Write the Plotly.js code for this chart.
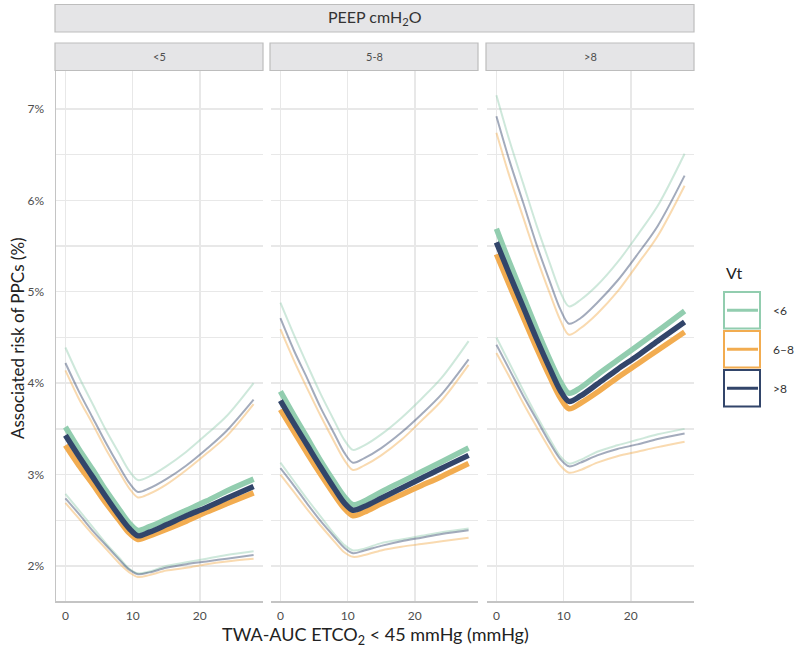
<!DOCTYPE html>
<html>
<head>
<meta charset="utf-8">
<script src="https://cdn.plot.ly/plotly-3.0.1.min.js"></script>
<style>html,body{margin:0;padding:0;background:#fff;}#chart{width:800px;height:650px;}</style>
</head>
<body>
<div id="chart"></div>
<script>
// ---- data ----
const xVals = [0, 2, 4, 6, 8, 9.5, 10.8, 12.5, 15, 18, 21, 24, 28];
const peepLabels = ['&lt;5', '5-8', '&gt;8'];
const vtLabels = ['&lt;6', '6–8', '&gt;8'];
const yTickVals = [2, 3, 4, 5, 6, 7];
const xTickVals = [0, 10, 20];

// PEEP <5
const up1_lt6 = [4.39,4.07,3.78,3.49,3.23,3.04,2.94,2.98,3.09,3.25,3.44,3.64,4.00];
const up1_6to8 = [4.14,3.83,3.56,3.28,3.03,2.85,2.75,2.79,2.89,3.05,3.23,3.42,3.77];
const up1_gt8 = [4.22,3.91,3.63,3.35,3.09,2.91,2.81,2.85,2.95,3.10,3.28,3.48,3.82];
const est1_lt6 = [3.52,3.28,3.06,2.83,2.62,2.47,2.39,2.43,2.51,2.61,2.71,2.82,2.95];
const est1_6to8 = [3.32,3.10,2.90,2.69,2.50,2.36,2.29,2.33,2.40,2.49,2.59,2.68,2.80];
const est1_gt8 = [3.43,3.20,2.98,2.76,2.55,2.41,2.33,2.37,2.45,2.55,2.64,2.74,2.87];
const lo1_lt6 = [2.79,2.61,2.43,2.25,2.09,1.97,1.92,1.94,2.00,2.04,2.08,2.12,2.16];
const lo1_6to8 = [2.69,2.52,2.35,2.19,2.03,1.93,1.88,1.90,1.95,1.98,2.02,2.05,2.08];
const lo1_gt8 = [2.74,2.57,2.39,2.23,2.07,1.96,1.91,1.93,1.98,2.02,2.05,2.08,2.12];

// PEEP 5-8
const up2_lt6 = [4.88,4.53,4.20,3.88,3.59,3.38,3.27,3.32,3.44,3.62,3.83,4.06,4.46];
const up2_6to8 = [4.59,4.25,3.94,3.64,3.36,3.16,3.05,3.10,3.21,3.38,3.59,3.81,4.20];
const up2_gt8 = [4.71,4.36,4.05,3.73,3.45,3.24,3.13,3.18,3.29,3.46,3.66,3.88,4.26];
const est2_lt6 = [3.91,3.65,3.40,3.15,2.92,2.76,2.67,2.71,2.81,2.92,3.03,3.14,3.29];
const est2_6to8 = [3.71,3.47,3.23,3.00,2.78,2.63,2.55,2.59,2.68,2.78,2.88,2.98,3.12];
const est2_gt8 = [3.81,3.56,3.32,3.08,2.85,2.69,2.61,2.65,2.74,2.85,2.96,3.07,3.21];
const lo2_lt6 = [3.13,2.93,2.73,2.54,2.35,2.23,2.17,2.19,2.25,2.29,2.33,2.37,2.41];
const lo2_6to8 = [3.00,2.81,2.62,2.44,2.27,2.15,2.10,2.12,2.17,2.21,2.24,2.27,2.31];
const lo2_gt8 = [3.07,2.88,2.68,2.49,2.32,2.20,2.14,2.17,2.22,2.27,2.31,2.35,2.39];

// PEEP >8
const up3_lt6 = [7.15,6.64,6.18,5.72,5.30,5.00,4.84,4.91,5.07,5.32,5.62,5.94,6.51];
const up3_6to8 = [6.74,6.25,5.81,5.37,4.97,4.69,4.53,4.60,4.76,5.00,5.30,5.61,6.16];
const up3_gt8 = [6.92,6.42,5.97,5.51,5.10,4.81,4.65,4.71,4.88,5.12,5.41,5.72,6.27];
const est3_lt6 = [5.69,5.31,4.95,4.59,4.25,4.02,3.89,3.95,4.09,4.25,4.41,4.57,4.79];
const est3_6to8 = [5.41,5.06,4.72,4.38,4.06,3.84,3.72,3.78,3.90,4.06,4.21,4.36,4.56];
const est3_gt8 = [5.54,5.18,4.83,4.48,4.15,3.92,3.80,3.86,3.99,4.15,4.30,4.46,4.67];
const lo3_lt6 = [4.50,4.21,3.92,3.64,3.38,3.20,3.12,3.16,3.25,3.32,3.38,3.44,3.50];
const lo3_6to8 = [4.33,4.06,3.78,3.52,3.27,3.10,3.02,3.05,3.13,3.20,3.25,3.30,3.36];
const lo3_gt8 = [4.42,4.14,3.86,3.60,3.34,3.17,3.09,3.13,3.21,3.28,3.33,3.39,3.45];

// ---- styling / build ----
const colors = ['rgb(146,205,175)', 'rgb(242,172,80)', 'rgb(50,69,106)'];
const panels = [
  {up: [up1_lt6, up1_6to8, up1_gt8], est: [est1_lt6, est1_6to8, est1_gt8], lo: [lo1_lt6, lo1_6to8, lo1_gt8]},
  {up: [up2_lt6, up2_6to8, up2_gt8], est: [est2_lt6, est2_6to8, est2_gt8], lo: [lo2_lt6, lo2_6to8, lo2_gt8]},
  {up: [up3_lt6, up3_6to8, up3_gt8], est: [est3_lt6, est3_6to8, est3_gt8], lo: [lo3_lt6, lo3_6to8, lo3_gt8]}
];

const W = 800, H = 650;
const px = v => v / W;
const py = v => 1 - v / H;
const panelX = [[56, 263], [271, 478], [487, 694]];
const panelTop = 70.5, panelBottom = 601;
const font = "Lato, 'Open Sans', 'DejaVu Sans', sans-serif";

const traces = [];
panels.forEach((p, i) => {
  const xa = 'x' + (i ? i + 1 : '');
  const ya = 'y' + (i ? i + 1 : '');
  [p.up, p.lo].forEach(group => {
    group.forEach((vals, k) => {
      traces.push({x: xVals, y: vals, xaxis: xa, yaxis: ya, mode: 'lines', showlegend: false, hoverinfo: 'skip',
        opacity: 0.45, line: {color: colors[k], width: 2, shape: 'spline', smoothing: 0.9}});
    });
  });
  p.est.forEach((vals, k) => {
    traces.push({x: xVals, y: vals, xaxis: xa, yaxis: ya, mode: 'lines', showlegend: false, hoverinfo: 'skip',
      line: {color: colors[k], width: 5.5, shape: 'spline', smoothing: 0.9}});
  });
});

const gridColor = '#E8E8E8';
const layout = {
  width: W, height: H,
  margin: {l: 0, r: 0, t: 0, b: 0},
  paper_bgcolor: '#fff', plot_bgcolor: '#fff',
  font: {family: font, color: '#4D4D4D', size: 12},
  showlegend: false,
  shapes: [], annotations: []
};

panelX.forEach((pxr, i) => {
  const sfx = i ? i + 1 : '';
  layout['xaxis' + sfx] = {
    domain: [px(pxr[0]), px(pxr[1])], anchor: 'y' + sfx,
    range: [-1.4, 29.4], tickvals: xTickVals, ticktext: xTickVals.map(String),
    showgrid: true, gridcolor: gridColor, gridwidth: 1.5, zeroline: false,
    showline: true, linecolor: '#C4C4C4', linewidth: 1.5,
    ticks: 'outside', ticklen: 3, tickcolor: 'rgba(0,0,0,0)',
    tickfont: {size: 12, color: '#4D4D4D', family: font}, fixedrange: true
  };
  layout['yaxis' + sfx] = {
    domain: [py(panelBottom), py(panelTop)], anchor: 'x' + sfx,
    range: [1.617, 7.42], tickvals: yTickVals, ticktext: yTickVals.map(v => v + '%'),
    showticklabels: i === 0,
    showgrid: true, gridcolor: gridColor, gridwidth: 1.5, zeroline: false,
    minor: {dtick: 0.5, tick0: 0, showgrid: true, gridcolor: gridColor, gridwidth: 1.5},
    showline: i === 0, linecolor: '#C4C4C4', linewidth: 1.5,
    ticks: 'outside', ticklen: 8, tickcolor: 'rgba(0,0,0,0)',
    tickfont: {size: 12, color: '#4D4D4D', family: font}, fixedrange: true
  };
  // facet strip
  layout.shapes.push({type: 'rect', xref: 'paper', yref: 'paper', x0: px(pxr[0] - 1), x1: px(pxr[1]), y0: py(70.5), y1: py(43),
    fillcolor: '#E5E5E7', line: {color: '#BDBDBD', width: 1.2}});
  layout.annotations.push({xref: 'paper', yref: 'paper', x: px((pxr[0] + pxr[1]) / 2), y: py(56.5), text: peepLabels[i],
    showarrow: false, font: {size: 11, color: '#4D4D4D', family: font}, xanchor: 'center', yanchor: 'middle'});
});

// top strip
layout.shapes.push({type: 'rect', xref: 'paper', yref: 'paper', x0: px(55), x1: px(694), y0: py(32), y1: py(4.5),
  fillcolor: '#E5E5E7', line: {color: '#BDBDBD', width: 1.2}});
layout.annotations.push({xref: 'paper', yref: 'paper', x: px(375), y: py(18), text: 'PEEP cmH<sub>2</sub>O',
  showarrow: false, font: {size: 16, color: '#333', family: font}, xanchor: 'center', yanchor: 'middle'});

// axis titles
layout.annotations.push({xref: 'paper', yref: 'paper', x: px(375), y: py(635), text: 'TWA-AUC ETCO<sub>2</sub> &lt; 45 mmHg (mmHg)',
  showarrow: false, font: {size: 18, color: '#222', family: font}, xanchor: 'center', yanchor: 'middle'});
layout.annotations.push({xref: 'paper', yref: 'paper', x: px(17), y: py(338), text: 'Associated risk of PPCs (%)', textangle: -90,
  showarrow: false, font: {size: 17, color: '#222', family: font}, xanchor: 'center', yanchor: 'middle'});

// legend (manual)
layout.annotations.push({xref: 'paper', yref: 'paper', x: px(724), y: py(272), text: 'Vt',
  showarrow: false, font: {size: 16, color: '#222', family: font}, xanchor: 'left', yanchor: 'middle'});
const legTop = [292, 331, 370];
vtLabels.forEach((lab, k) => {
  const t = legTop[k], b = t + 36.5, cy = (t + b) / 2;
  layout.shapes.push({type: 'rect', xref: 'paper', yref: 'paper', x0: px(724), x1: px(760), y0: py(b), y1: py(t),
    fillcolor: 'rgba(255,255,255,0)', line: {color: colors[k], width: 2}});
  layout.shapes.push({type: 'line', xref: 'paper', yref: 'paper', x0: px(727), x1: px(758), y0: py(cy), y1: py(cy),
    line: {color: colors[k], width: 3}});
  layout.annotations.push({xref: 'paper', yref: 'paper', x: px(771), y: py(cy), text: lab,
    showarrow: false, font: {size: 12, color: '#333', family: font}, xanchor: 'left', yanchor: 'middle'});
});

Plotly.newPlot('chart', traces, layout, {displayModeBar: false, staticPlot: true});
</script>
</body>
</html>
